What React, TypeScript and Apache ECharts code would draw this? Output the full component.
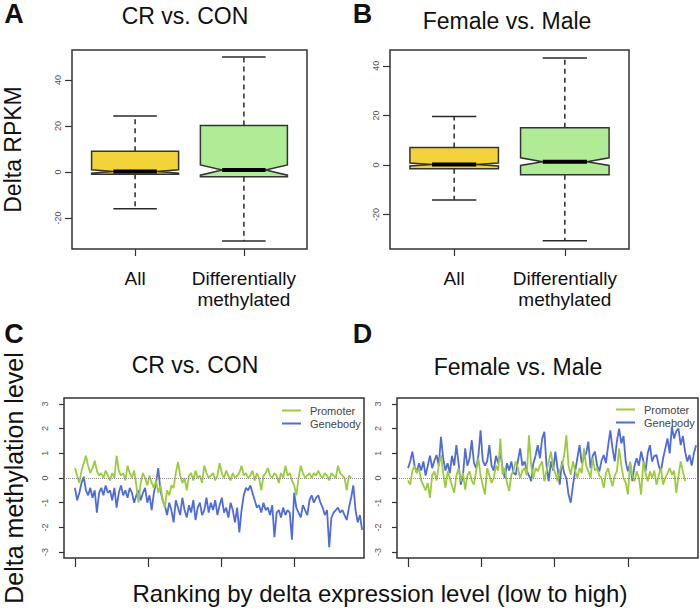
import React, { useEffect, useRef } from 'react';
import * as echarts from 'echarts';

const FONT = '"Liberation Sans", Arial, Helvetica, sans-serif';

// ---- Box plot data (panels A, B) ----
const boxCategories = ['All', 'Differentially\nmethylated'];
// [whiskerLow, Q1, median, Q3, whiskerHigh]
const crAllStats = [-16, -1, 0.2, 9, 24.3];
const crDiffStats = [-30, -2.1, 0.8, 20.2, 50];
const fmAllStats = [-14.1, -1.5, 0.2, 7.1, 19.6];
const fmDiffStats = [-30.6, -3.9, 1.3, 15, 43.2];
// notch [low, high]
const crAllNotch = [-0.5, 0.9];
const crDiffNotch = [-1.4, 3.0];
const fmAllNotch = [-0.4, 0.8];
const fmDiffNotch = [-0.2, 2.9];

const rpkmTicks = [-20, 0, 20, 40];
const methTicks = [-3, -2, -1, 0, 1, 2, 3];
const rankTicks = [0, 1000, 2000, 3000];
const rankStep = 30;

// ---- Line data (panels C, D): delta methylation along expression ranking ----
const genebodyCR = [
  -0.4, -0.9, -0.6, -0.2, 0.05, -0.5, -0.7, -0.4, -0.8, -0.5, -1.4, -0.6,
  -0.4, -0.7, -0.3, -0.6, -0.5, -0.9, -0.4, -1.2, -0.6, -0.3, -0.7, -0.5,
  -0.8, -0.4, -0.6, -1.0, -0.7, -0.5, -0.9, -0.6, -0.4, -1.0, -0.7, -1.3,
  -0.6, -0.2, 0.4, -0.5, -0.9, -1.1,
  -1.5, -1.0, -1.3, -1.8, -0.9, -1.2, -1.5, -0.8, -1.3, -1.6, -1.1, -1.4, -0.9, -1.7, -1.2, -1.0, -1.5, -1.3, -0.8, -1.4,
  -1.0, -1.3, -0.9, -1.5, -1.1, -0.8, -1.4, -1.2, -1.6, -1.0, -1.3, -1.8, -1.2, -2.2,
  -1.3, -0.7, -0.4, -0.5, -0.3, -0.6, -0.9,
  -1.2, -1.1, -1.4, -1.0, -1.3, -1.2, -1.5, -1.1, -2.4, -1.4,
  -1.3, -1.6, -1.2, -1.5, -1.3, -1.4, -2.5,
  -0.6, -1.2, -1.4, -1.6, -1.1, -1.3, -1.5,
  -0.9, -0.7, -1.0, -0.8, -0.7, -1.0, -1.2,
  -1.5, -1.3, -2.8, -1.6, -1.4,
  -1.3, -1.2, -1.4, -1.3, -1.5, -1.7, -1.2, -0.8, -0.3, -1.3, -1.8, -1.5, -2.1,
];
const promoterCR = [
  0.4, 0.1, -0.2, 0.3, 0.6, 0.9, 0.5, 0.2, 0.4, 0.7, 0.3, 0.1,
  0.2, 0.0, 0.3, 0.1, -0.1, 0.2, 0.0, 0.9, 0.3, 0.1, 0.2, -0.1,
  0.5, 0.2, 0.0, 0.3, -0.3, -1.0, -0.2, 0.2, 0.0, -0.3, 0.1, -0.2,
  -0.4, -0.1, -0.6, -0.3, -0.9, -1.2, -0.5, -0.7, -0.3, -0.4,
  0.2, 0.65, 0.1, -0.2, 0.0, -0.5, 0.1, 0.2, -0.1, 0.3, 0.0, 0.1, -0.2, 0.5,
  0.2, 0.0, 0.1, 0.2, -0.1, 0.1, 0.6, 0.2, 0.0, 0.3, 0.1, -0.1, 0.2, 0.0, 0.1, 0.2,
  0.5, 0.1, 0.2, 0.0, 0.1, 0.3, -0.1, 0.2, 0.0, -0.5, 0.1, 0.2,
  0.4, 0.1, 0.0, 0.2, 0.1, -0.2, 0.2, 0.0, 0.5, 0.1, 0.2, -0.1,
  -0.3, -0.7, 0.0, 0.5, 0.2, 0.0, 0.1, 0.2,
  0.0, 0.2, 0.1, 0.3, 0.1, 0.0, 0.2, 0.1, -0.1, 0.2, 0.1, 0.0, 0.5, 0.2, 0.1, 0.0, -0.5, 0.1, 0.0,
];
const genebodyFM = [
  0.4, 0.67, 1.07, 0.5, 0.2, 0.6, 0.3, 0.67, 0.1, 0.5, 0.9, 0.4,
  0.7, 0.93, 0.5, 1.67, 0.8, 0.3, 0.6, 0.2, 0.9, 0.5, 1.33, 0.6,
  -0.27, 0.1, 1.2, 0.5, 0.8, 1.53, 0.6, 0.4, 0.9, 1.93, 0.7, 0.5,
  0.67, 1.33, 0.5, 0.3, 0.9, 0.6, 1.07, 0.4, 0.0, 0.6, 0.3, 0.67,
  0.2, 0.13, 0.7, 1.2, 0.5, 0.67, 0.3, 0.1, -0.13, 0.6, 0.9, 1.33,
  0.8, 1.6, 1.87, 0.5, -0.13, 0.67, 0.3, 1.07, 0.4, -0.27, 0.67, 0.2,
  0.0, -0.67, -1.0, -0.3, 0.27, 0.8, 1.33, 0.6, 0.8, 1.0, 1.47, 0.4,
  0.9, 1.07, 0.5, 0.27, 0.7, 0.93, 0.6, 1.3, 1.93, 1.2, 0.67, 1.5,
  2.0, 1.4, 1.7, 0.67, 0.27, 0.6, -0.13, 0.5, 0.8, 0.5, 1.07, 0.7,
  0.27, 1.0, 1.33, 0.67, 0.9, 0.93, 0.5, 0.27, 0.8, 1.2, 1.6, 1.0,
  2.07, 1.6, 1.9, 2.0, 1.33, 1.7, 1.07, 0.67, 0.93, 0.5, 1.0, 1.33,
];
const promoterFM = [
  -0.1, -0.27, 0.3, 0.5, 0.2, 0.4, -0.1, -0.3, -0.5, -0.2, -0.8, 0.1,
  0.27, -0.1, 0.5, 0.93, 0.2, -0.4, 0.27, 0.0, -0.3, -0.6, 0.1, 0.4,
  -0.13, 0.2, -0.47, 0.1, 0.27, -0.1, -0.27, 0.3, 0.8, 0.1, -0.3, -0.67,
  0.4, 0.1, -0.2, 0.0, 0.5, 0.3, 1.6, 0.13, 0.4, -0.2, -0.53, 0.13,
  0.3, 0.67, 0.4, 0.0, 0.3, 0.4, 0.1, 1.73, 0.5, 0.0, 0.4, 0.27,
  0.5, 0.67, -0.13, 0.3, 0.67, 1.07, 0.4, 0.2, -0.13, 0.3, 0.53, 0.9,
  1.73, 0.5, 0.13, 0.67, 0.3, 0.0, 0.4, 0.2, 1.2, 0.5, 0.27, 0.0,
  0.8, 0.3, 0.4, 0.1, 0.0, -0.4, 0.2, 0.4, 0.0, -0.33, 0.1, 0.27,
  1.2, 0.5, 0.0, -0.2, -0.67, 0.67, 0.1, -0.13, 0.27, 0.0, -0.67, 0.67,
  0.2, -0.13, 0.27, 0.0, 0.3, -0.27, 0.1, 0.4, -0.27, 0.0, 0.2, 0.4,
  0.13, 0.3, -0.6, 0.1, 0.67, 0.27, -0.13,
];

const GREEN = '#9DCB3F';
const BLUE = '#4F6BDD';
const BOX_FILLS = ['#F2D33A', '#B0EC96'];

function renderBox(params: any, api: any) {
  const x = api.value(0);
  const lo = api.value(1);
  const q1 = api.value(2);
  const med = api.value(3);
  const q3 = api.value(4);
  const hi = api.value(5);
  const nLo = api.value(6);
  const nHi = api.value(7);
  const hw = 0.4;
  const cw = 0.2;
  const p = (xx: number, yy: number) => api.coord([xx, yy]);
  const c = p(x, 0)[0];
  const stroke = '#2a2a2a';
  const poly = [
    p(x - hw, q3), p(x + hw, q3), p(x + hw, nHi), p(x + hw / 2, med), p(x + hw, nLo),
    p(x + hw, q1), p(x - hw, q1), p(x - hw, nLo), p(x - hw / 2, med), p(x - hw, nHi),
  ];
  return {
    type: 'group',
    children: [
      { type: 'line', shape: { x1: c, y1: p(x, q3)[1], x2: c, y2: p(x, hi)[1] }, style: { stroke, lineWidth: 1.5, lineDash: [5, 4] } },
      { type: 'line', shape: { x1: c, y1: p(x, q1)[1], x2: c, y2: p(x, lo)[1] }, style: { stroke, lineWidth: 1.5, lineDash: [5, 4] } },
      { type: 'line', shape: { x1: p(x - cw, hi)[0], y1: p(x, hi)[1], x2: p(x + cw, hi)[0], y2: p(x, hi)[1] }, style: { stroke, lineWidth: 1.5 } },
      { type: 'line', shape: { x1: p(x - cw, lo)[0], y1: p(x, lo)[1], x2: p(x + cw, lo)[0], y2: p(x, lo)[1] }, style: { stroke, lineWidth: 1.5 } },
      { type: 'polygon', shape: { points: poly }, style: { fill: BOX_FILLS[params.dataIndex], stroke: '#333', lineWidth: 1.5 } },
      { type: 'line', shape: { x1: p(x - hw / 2, med)[0], y1: p(x, med)[1], x2: p(x + hw / 2, med)[0], y2: p(x, med)[1] }, style: { stroke: '#000', lineWidth: 4 } },
    ],
  };
}

const tickStyle = { color: '#333', width: 1.2 };
const hiddenLine = { show: false, onZero: false };

function boxXAxis(gridIndex: number) {
  return {
    type: 'value', gridIndex, min: 0.42, max: 2.58, position: 'bottom',
    axisLine: hiddenLine, splitLine: { show: false },
    axisTick: { show: true, customValues: [1, 2], length: 7, lineStyle: tickStyle },
    axisLabel: {
      customValues: [1, 2], formatter: (v: number) => boxCategories[Math.round(v) - 1],
      fontSize: 19, lineHeight: 21, color: '#111', margin: 19, fontFamily: FONT,
    },
  };
}
function boxYAxis(gridIndex: number, min: number, max: number, name: string) {
  return {
    type: 'value', gridIndex, min, max, name, nameLocation: 'middle', nameGap: 48, position: 'left',
    nameTextStyle: { fontSize: 23, color: '#111', fontFamily: FONT },
    axisLine: hiddenLine, splitLine: { show: false },
    axisTick: { show: true, customValues: rpkmTicks, length: 7, lineStyle: tickStyle },
    axisLabel: { customValues: rpkmTicks, rotate: 90, fontSize: 9, color: '#555', margin: 10, fontFamily: FONT },
  };
}
function rankXAxis(gridIndex: number) {
  return {
    type: 'value', gridIndex, min: -150, max: 3956, position: 'bottom',
    axisLine: hiddenLine, splitLine: { show: false },
    axisTick: { show: true, customValues: rankTicks, length: 9, lineStyle: tickStyle },
    axisLabel: { show: false },
  };
}
function methYAxis(gridIndex: number, name: string) {
  return {
    type: 'value', gridIndex, min: -3.24, max: 3.24, name, nameLocation: 'middle', nameGap: 38, position: 'left',
    nameTextStyle: { fontSize: 25, color: '#111', fontFamily: FONT },
    axisLine: hiddenLine, splitLine: { show: false },
    axisTick: { show: true, customValues: methTicks, length: 5, lineStyle: tickStyle },
    axisLabel: { customValues: methTicks, rotate: 90, fontSize: 9, color: '#555', margin: 15, fontFamily: FONT },
  };
}

const toXY = (arr: number[]) => arr.map((v, i) => [i * rankStep, v]);

const zeroLine = {
  silent: true, symbol: 'none', label: { show: false },
  lineStyle: { color: '#8a8a8a', type: 'dotted', width: 1 },
  data: [{ yAxis: 0 }],
};

function txt(text: string, x: number, y: number, fontSize: number, bold = false) {
  return {
    type: 'text', x, y, silent: true,
    style: {
      text, fontSize, fontFamily: FONT, fontWeight: bold ? 'bold' : 'normal', fill: '#111',
      align: 'center', verticalAlign: 'middle', textAlign: 'center', textVerticalAlign: 'middle',
    },
  };
}

function legendAt(left: number, top: number) {
  return {
    data: ['Promoter', 'Genebody'], orient: 'vertical', left, top, padding: 0,
    icon: 'rect', itemWidth: 19, itemHeight: 2, itemGap: 2, selectedMode: false,
    textStyle: { fontSize: 11, lineHeight: 11, color: '#444', fontFamily: FONT, padding: [0, 0, 0, 4] },
  };
}

const lineStyleOf = (color: string) => ({ color, width: 1.8 });

export default function App() {
  const ref = useRef<HTMLDivElement>(null);
  useEffect(() => {
    if (!ref.current) return;
    const chart = echarts.init(ref.current, undefined, { renderer: 'svg' });
    const gridStyle = { show: true, borderColor: '#333', borderWidth: 1.5, backgroundColor: 'transparent' };
    chart.setOption({
      animation: false,
      backgroundColor: '#fff',
      textStyle: { fontFamily: FONT },
      grid: [
        { left: 70, top: 50, width: 237, height: 199, ...gridStyle },
        { left: 390, top: 50, width: 239, height: 199, ...gridStyle },
        { left: 63, top: 398, width: 301, height: 160, ...gridStyle },
        { left: 397, top: 398, width: 301, height: 160, ...gridStyle },
      ],
      xAxis: [boxXAxis(0), boxXAxis(1), rankXAxis(2), rankXAxis(3)],
      yAxis: [
        boxYAxis(0, -33.5, 53, 'Delta RPKM'),
        boxYAxis(1, -33.9, 46.4, ''),
        methYAxis(2, 'Delta methylation level'),
        methYAxis(3, ''),
      ],
      legend: [legendAt(282, 405), legendAt(616, 404)],
      series: [
        {
          type: 'custom', name: 'CR vs. CON', xAxisIndex: 0, yAxisIndex: 0, renderItem: renderBox,
          encode: { x: 0, y: [1, 2, 3, 4, 5] },
          data: [[1, ...crAllStats, ...crAllNotch], [2, ...crDiffStats, ...crDiffNotch]],
        },
        {
          type: 'custom', name: 'Female vs. Male', xAxisIndex: 1, yAxisIndex: 1, renderItem: renderBox,
          encode: { x: 0, y: [1, 2, 3, 4, 5] },
          data: [[1, ...fmAllStats, ...fmAllNotch], [2, ...fmDiffStats, ...fmDiffNotch]],
        },
        {
          type: 'line', name: 'Genebody', xAxisIndex: 2, yAxisIndex: 2, data: toXY(genebodyCR),
          showSymbol: false, symbol: 'none', color: BLUE, lineStyle: lineStyleOf(BLUE), markLine: zeroLine,
        },
        {
          type: 'line', name: 'Promoter', xAxisIndex: 2, yAxisIndex: 2, data: toXY(promoterCR),
          showSymbol: false, symbol: 'none', color: GREEN, lineStyle: lineStyleOf(GREEN),
        },
        {
          type: 'line', name: 'Genebody', xAxisIndex: 3, yAxisIndex: 3, data: toXY(genebodyFM),
          showSymbol: false, symbol: 'none', color: BLUE, lineStyle: lineStyleOf(BLUE), markLine: zeroLine,
        },
        {
          type: 'line', name: 'Promoter', xAxisIndex: 3, yAxisIndex: 3, data: toXY(promoterFM),
          showSymbol: false, symbol: 'none', color: GREEN, lineStyle: lineStyleOf(GREEN),
        },
      ],
      graphic: [
        txt('A', 14, 13.5, 27, true),
        txt('CR vs. CON', 185, 16, 23),
        txt('B', 362.5, 13.5, 27, true),
        txt('Female vs. Male', 507, 20.5, 23),
        txt('C', 14, 334, 27, true),
        txt('CR vs. CON', 195, 364.5, 23),
        txt('D', 362.5, 334, 27, true),
        txt('Female vs. Male', 518, 366.5, 23),
        txt('Ranking by delta expression level (low to high)', 380, 593.5, 24),
      ],
    });
    return () => chart.dispose();
  }, []);
  return <div ref={ref} style={{ position: 'absolute', left: 0, top: 0, width: 700, height: 609, background: '#fff' }} />;
}
